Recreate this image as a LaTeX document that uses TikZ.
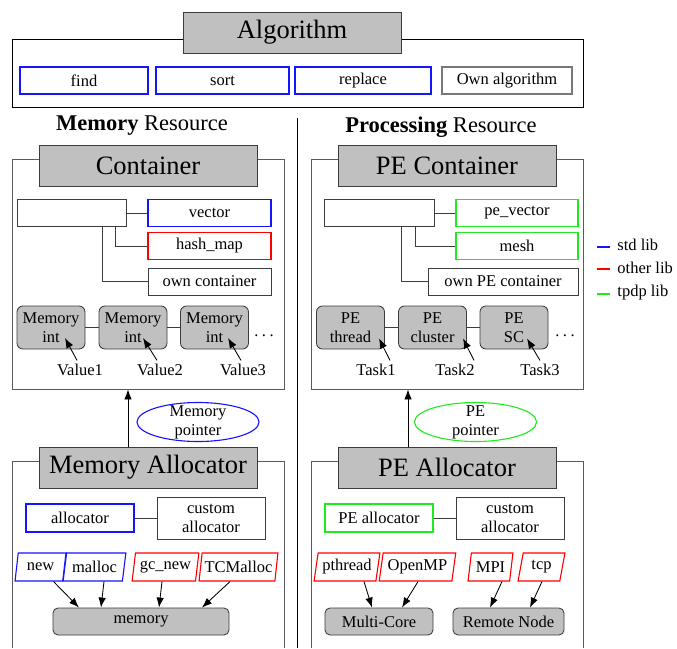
\documentclass[tikz,border=0pt]{standalone}
\usepackage{fontspec}
\setmainfont{Liberation Serif}
\usetikzlibrary{shapes.geometric,arrows.meta}

\definecolor{titleGray}{RGB}{192,192,192}
\definecolor{edgeGray}{RGB}{60,60,60}
\definecolor{frameGray}{RGB}{90,90,90}
\definecolor{ownGray}{RGB}{120,120,120}
\definecolor{stdBlue}{RGB}{20,20,255}
\definecolor{otherRed}{RGB}{255,0,0}
\definecolor{tpdpGreen}{RGB}{30,235,30}

\newcommand{\lblfont}{\fontsize{16.5}{19}\selectfont}
\newcommand{\ttlfont}{\fontsize{26.5}{30}\selectfont}
\newcommand{\hdfont}{\fontsize{22.5}{26}\selectfont}

\begin{document}
\begin{tikzpicture}[x=1pt, y=-1pt,
    titlebox/.style={draw=edgeGray, fill=titleGray, minimum width=218pt, minimum height=41pt, inner sep=0pt, font=\ttlfont},
    plainbox/.style={draw=edgeGray, fill=white, minimum height=27pt, inner sep=0pt, font=\lblfont},
    lib/.style={plainbox, draw=#1, line width=1.1bp},
    cell/.style={draw=edgeGray, fill=titleGray, rounded corners=6pt, minimum width=68pt, minimum height=43pt, inner sep=0pt, align=center, font=\lblfont},
    callbox/.style={trapezium, trapezium left angle=78, trapezium right angle=102, trapezium stretches=true, draw=#1, line width=1.1bp, fill=white, minimum height=28pt, inner sep=1pt, font=\lblfont},
    sink/.style={draw=edgeGray, fill=titleGray, rounded corners=5pt, minimum height=27pt, inner sep=0pt, font=\lblfont},
    bubble/.style={ellipse, draw=#1, line width=1.1bp, minimum width=122pt, minimum height=39pt, inner sep=0pt},
    ptr/.style={-{Latex[length=10pt,width=7.5pt]}, black},
    wire/.style={draw=edgeGray},
    outline/.style={draw=frameGray},
    legend/.style={line width=1.3bp},
    ]
    \pgfsetlinewidth{0.85bp}
    \useasboundingbox (0,0) rectangle (677,648);

    % algorithm
    \draw (12,39) rectangle (583,107);
    \node[titlebox] (algtitle) at (292,32.5) {Algorithm};
    \node[lib=stdBlue, minimum width=128pt] (find) at (84,80.5) {find};
    \node[lib=stdBlue, minimum width=133pt] (sort) at (222.5,80.5) {sort};
    \node[lib=stdBlue, minimum width=136pt] (replace) at (363,80.5) {replace};
    \node[lib=ownGray, minimum width=130pt] (ownalg) at (507,80.5) {Own algorithm};

    % resources
    \node[font=\hdfont] (memhead) at (142,126) {\bfseries Memory \mdseries Resource};
    \node[font=\hdfont] (prochead) at (441,127) {\bfseries Processing \mdseries Resource};
    \draw (297,118) -- (297,648);

    % memory container
    \node[outline, minimum width=272pt, minimum height=230pt] (cframe) at (148,274) {};
    \node[titlebox] (ctitle) at (148,165.5) {Container};
    \node[plainbox, minimum width=109pt] (mbase) at (71.5,213) {};
    \node[lib=stdBlue, minimum width=123pt] (vector) at (209.5,213) {vector};
    \node[lib=otherRed, minimum width=123pt] (hashmap) at (209.5,246) {hash\_map};
    \node[plainbox, minimum width=123pt] (owncont) at (209.5,281.5) {own container};
    \draw[wire] (mbase.east) -- (vector.west);
    \draw[wire] ([xshift=43.5pt]mbase.south) |- (hashmap.west);
    \draw[wire] ([xshift=30.5pt]mbase.south) |- (owncont.west);

    \node[cell] (mi1) at (51,327.5) {Memory\\int};
    \node[cell] (mi2) at (133,327.5) {Memory\\int};
    \node[cell] (mi3) at (214.5,327.5) {Memory\\int};
    \node[font=\lblfont, inner sep=0pt] (mdots) at (264,336) {.\hspace{3.5pt}.\hspace{3.5pt}.};
    \draw[wire] (mi1.east) -- (mi2.west);
    \draw[wire] (mi2.east) -- (mi3.west);
    \node[font=\lblfont] (v1) at (80,370) {Value1};
    \node[font=\lblfont] (v2) at (160,370) {Value2};
    \node[font=\lblfont] (v3) at (243,370) {Value3};
    \draw[ptr] ([xshift=-3pt]v1.north) -- ([shift={(14,10.5)}]mi1.center);
    \draw[ptr] ([xshift=-3pt]v2.north) -- ([shift={(10,10.5)}]mi2.center);
    \draw[ptr] ([xshift=-2pt]v3.north) -- ([shift={(13.5,10.5)}]mi3.center);

    % PE container
    \node[outline, minimum width=272pt, minimum height=230pt] (pframe) at (447,274) {};
    \node[titlebox] (ptitle) at (447,165.5) {PE Container};
    \node[plainbox, minimum width=110pt] (pbase) at (379,213) {};
    \node[lib=tpdpGreen, minimum width=122pt] (pevector) at (517,213) {pe\_vector};
    \node[lib=tpdpGreen, minimum width=122pt] (mesh) at (517,246) {mesh};
    \node[plainbox, minimum width=150pt] (ownpe) at (503,281.5) {own PE container};
    \draw[wire] (pbase.east) -- (pevector.west);
    \draw[wire] ([xshift=36pt]pbase.south) |- (mesh.west);
    \draw[wire] ([xshift=22pt]pbase.south) |- (ownpe.west);

    \node[cell] (pe1) at (350.5,327.5) {PE\\thread};
    \node[cell] (pe2) at (432.5,327.5) {PE\\cluster};
    \node[cell] (pe3) at (514,327.5) {PE\\SC};
    \node[font=\lblfont, inner sep=0pt] (pdots) at (565,336) {.\hspace{3.5pt}.\hspace{3.5pt}.};
    \draw[wire] (pe1.east) -- (pe2.west);
    \draw[wire] (pe2.east) -- (pe3.west);
    \node[font=\lblfont] (t1) at (376,370) {Task1};
    \node[font=\lblfont] (t2) at (455,370) {Task2};
    \node[font=\lblfont] (t3) at (540,370) {Task3};
    \draw[ptr] ([xshift=14pt]t1.north) -- ([shift={(28.5,11)}]pe1.center);
    \draw[ptr] ([xshift=19pt]t2.north) -- ([shift={(30.5,11)}]pe2.center);
    \draw[ptr] (t3.north) -- ([shift={(13,11)}]pe3.center);

    % legend
    \coordinate (lb1) at (597,247);  \coordinate (lb2) at (610,247);
    \coordinate (lr1) at (597,269);  \coordinate (lr2) at (610,269);
    \coordinate (lg1) at (597,294);  \coordinate (lg2) at (610,294);
    \draw[legend, draw=stdBlue] (lb1) -- (lb2);
    \draw[legend, draw=otherRed] (lr1) -- (lr2);
    \draw[legend, draw=tpdpGreen] (lg1) -- (lg2);
    \node[font=\lblfont, anchor=west, inner sep=0pt] (lstd) at (617,245) {std lib};
    \node[font=\lblfont, anchor=west, inner sep=0pt] (lother) at (617,268) {other lib};
    \node[font=\lblfont, anchor=west, inner sep=0pt] (ltpdp) at (617,293) {tpdp lib};

    % memory allocator
    \draw[outline] (12,648) -- (12,461) -- (284,461) -- (284,648);
    \node[titlebox] (matitle) at (148,467.5) {Memory Allocator};
    \draw[ptr] ([xshift=-20pt]matitle.north) -- ([xshift=-20pt]matitle.north |- cframe.south);
    \node[bubble=stdBlue, label={[font=\lblfont, align=center]center:{Memory\\pointer}}] (mptr) at (198,422) {};
    \node[lib=stdBlue, minimum width=108pt, minimum height=28pt] (alloc) at (80,518) {allocator};
    \node[plainbox, minimum width=108pt, minimum height=42pt, align=center] (calloc) at (211,518) {custom\\allocator};
    \draw[wire] (alloc.east) -- (calloc.west);

    \node[callbox=stdBlue, minimum width=51pt] (pnew) at (40.5,567) {new};
    \node[callbox=stdBlue, minimum width=63pt] (pmalloc) at (94.5,567) {malloc};
    \node[callbox=otherRed, minimum width=67pt] (pgcnew) at (165.5,567) {gc\_new};
    \node[callbox=otherRed, minimum width=79pt] (ptcm) at (238.5,567) {TCMalloc};
    \node[sink, minimum width=176pt] (mem) at (141,621.5) {memory};
    \draw[ptr] ([xshift=13pt]pnew.south) -- ([xshift=-62pt]mem.north);
    \draw[ptr] ([xshift=9.5pt]pmalloc.south) -- ([xshift=-40pt]mem.north);
    \draw[ptr] ([xshift=-3.5pt]pgcnew.south) -- ([xshift=18pt]mem.north);
    \draw[ptr] ([xshift=-8.5pt]ptcm.south) -- ([xshift=61pt]mem.north);

    % PE allocator
    \draw[outline] (311,648) -- (311,461) -- (583,461) -- (583,648);
    \node[titlebox] (patitle) at (447,467.5) {PE Allocator};
    \draw[ptr] ([xshift=-39pt]patitle.north) -- ([xshift=-39pt]patitle.north |- pframe.south);
    \node[bubble=tpdpGreen, label={[font=\lblfont, align=center]center:{PE\\pointer}}] (pptr) at (475.5,422) {};
    \node[lib=tpdpGreen, minimum width=108pt, minimum height=28pt] (palloc) at (379,518) {PE allocator};
    \node[plainbox, minimum width=108pt, minimum height=42pt, align=center] (pcalloc) at (510,518) {custom\\allocator};
    \draw[wire] (palloc.east) -- (pcalloc.west);

    \node[callbox=otherRed, minimum width=66pt] (pth) at (347,567) {pthread};
    \node[callbox=otherRed, minimum width=77pt] (omp) at (417.5,567) {OpenMP};
    \node[callbox=otherRed, minimum width=45pt] (mpi) at (490.5,567) {MPI};
    \node[callbox=otherRed, minimum width=47pt] (tcp) at (541.5,567) {tcp};
    \node[sink, minimum width=108pt] (mcore) at (379,621.5) {Multi-Core};
    \node[sink, minimum width=111pt] (rnode) at (508.5,621.5) {Remote Node};
    \draw[ptr] ([xshift=17pt]pth.south) -- ([xshift=-7pt]mcore.north);
    \draw[ptr] ([xshift=0.5pt]omp.south) -- ([xshift=23pt]mcore.north);
    \draw[ptr] ([xshift=11.5pt]mpi.south) -- ([xshift=-18.5pt]rnode.north);
    \draw[ptr] ([xshift=0.5pt]tcp.south) -- ([xshift=21.5pt]rnode.north);
\end{tikzpicture}
\end{document}
